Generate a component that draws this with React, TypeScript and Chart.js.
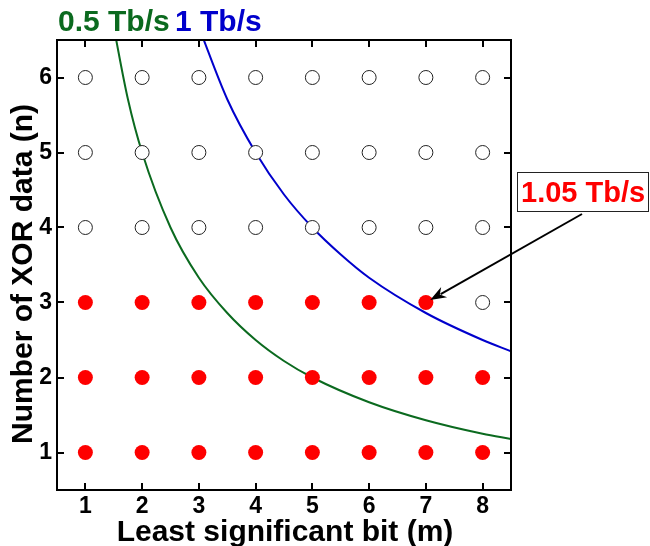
import React, { useEffect, useRef } from 'react';
import { Chart, registerables } from 'chart.js';

Chart.register(...registerables);

// ---- data ----
const mTicks = [1, 2, 3, 4, 5, 6, 7, 8];
const nTicks = [1, 2, 3, 4, 5, 6];
// largest m that is achievable (red) for each n = 1..6
const maxFeasibleM = [8, 8, 7, 0, 0, 0];

// 0.5 Tb/s boundary
const greenM = [1.5, 1.75, 2, 2.5, 3, 3.5, 4, 4.5, 5, 6, 7, 8, 8.5];
const greenN = [6.67, 5.71, 5.0, 4.0, 3.33, 2.86, 2.5, 2.22, 2.0, 1.67, 1.43, 1.25, 1.18];
// 1 Tb/s boundary
const blueM = [3, 3.5, 4, 4.5, 5, 5.5, 6, 7, 8, 8.5];
const blueN = [6.67, 5.71, 5.0, 4.44, 4.0, 3.64, 3.33, 2.86, 2.5, 2.35];

const greenLabel = '0.5 Tb/s';
const blueLabel = '1 Tb/s';
const calloutText = '1.05 Tb/s';
const calloutM = 7;
const calloutN = 3;

const xTitle = 'Least significant bit (m)';
const yTitle = 'Number of XOR data (n)';

const FONT = '"Liberation Sans", Arial, Helvetica, sans-serif';
const RED = '#fe0000';
const GREEN = '#0b6a1f';
const BLUE = '#0000cc';

const filledPts: { x: number; y: number }[] = [];
const openPts: { x: number; y: number }[] = [];
nTicks.forEach((n, i) => {
  mTicks.forEach((m) => {
    if (m <= maxFeasibleM[i]) filledPts.push({ x: m, y: n });
    else openPts.push({ x: m, y: n });
  });
});

const decorPlugin = {
  id: 'decor',
  afterDraw(chart: any) {
    const { ctx, chartArea } = chart;
    const { left, top, right, bottom } = chartArea;
    const xs = chart.scales.x;
    const ys = chart.scales.y;
    ctx.save();
    // frame
    ctx.strokeStyle = '#000';
    ctx.lineWidth = 2;
    ctx.strokeRect(left, top, right - left, bottom - top);
    // inward ticks
    const tl = 7;
    ctx.beginPath();
    mTicks.forEach((m) => {
      const x = Math.round(xs.getPixelForValue(m));
      ctx.moveTo(x, bottom);
      ctx.lineTo(x, bottom - tl);
      ctx.moveTo(x, top);
      ctx.lineTo(x, top + tl);
    });
    nTicks.forEach((n) => {
      const y = Math.round(ys.getPixelForValue(n));
      ctx.moveTo(left, y);
      ctx.lineTo(left + tl, y);
      ctx.moveTo(right, y);
      ctx.lineTo(right - tl, y);
    });
    ctx.stroke();

    // axis titles
    ctx.fillStyle = '#000';
    ctx.font = `bold 30px ${FONT}`;
    ctx.textAlign = 'center';
    ctx.textBaseline = 'alphabetic';
    ctx.fillText(xTitle, (left + right) / 2 + 1, 541);
    ctx.save();
    ctx.translate(32, 274);
    ctx.rotate(-Math.PI / 2);
    ctx.fillText(yTitle, 0, 0);
    ctx.restore();

    // curve labels
    ctx.font = `bold 30px ${FONT}`;
    ctx.textAlign = 'left';
    ctx.fillStyle = GREEN;
    ctx.fillText(greenLabel, 58, 31);
    ctx.fillStyle = BLUE;
    ctx.fillText(blueLabel, 175, 31);

    // callout box
    const bx = 517, by = 172, bw = 132, bh = 40;
    ctx.fillStyle = '#fff';
    ctx.fillRect(bx, by, bw, bh);
    ctx.strokeStyle = '#222';
    ctx.lineWidth = 1;
    ctx.strokeRect(bx + 0.5, by + 0.5, bw - 1, bh - 1);
    ctx.fillStyle = RED;
    ctx.font = `bold 29px ${FONT}`;
    ctx.fillText(calloutText, 521, 202);

    // arrow
    const px = xs.getPixelForValue(calloutM);
    const py = ys.getPixelForValue(calloutN);
    const sx = 582, sy = 214;
    const dx = sx - px, dy = sy - py;
    const len = Math.hypot(dx, dy);
    const ux = dx / len, uy = dy / len;
    const tx = px + ux * 5, ty = py + uy * 5;
    const ah = 16, aw = 6;
    ctx.strokeStyle = '#000';
    ctx.lineWidth = 2;
    ctx.beginPath();
    ctx.moveTo(sx, sy);
    ctx.lineTo(tx + ux * (ah - 4), ty + uy * (ah - 4));
    ctx.stroke();
    const nx = -uy, ny = ux;
    ctx.fillStyle = '#000';
    ctx.beginPath();
    ctx.moveTo(tx, ty);
    ctx.lineTo(tx + ux * ah + nx * aw, ty + uy * ah + ny * aw);
    ctx.lineTo(tx + ux * (ah - 5), ty + uy * (ah - 5));
    ctx.lineTo(tx + ux * ah - nx * aw, ty + uy * ah - ny * aw);
    ctx.closePath();
    ctx.fill();
    ctx.restore();
  },
};

export default function App() {
  const ref = useRef<HTMLCanvasElement | null>(null);
  useEffect(() => {
    if (!ref.current) return;
    const chart = new Chart(ref.current, {
      type: 'scatter',
      data: {
        datasets: [
          {
            label: greenLabel,
            data: greenM.map((m, i) => ({ x: m, y: greenN[i] })),
            showLine: true,
            borderColor: GREEN,
            borderWidth: 2,
            pointRadius: 0,
            cubicInterpolationMode: 'monotone',
            order: 2,
          },
          {
            label: blueLabel,
            data: blueM.map((m, i) => ({ x: m, y: blueN[i] })),
            showLine: true,
            borderColor: BLUE,
            borderWidth: 2,
            pointRadius: 0,
            cubicInterpolationMode: 'monotone',
            order: 2,
          },
          {
            label: 'achievable',
            data: filledPts,
            backgroundColor: RED,
            borderColor: RED,
            borderWidth: 0,
            pointRadius: 7.5,
            order: 1,
          },
          {
            label: 'not achievable',
            data: openPts,
            backgroundColor: '#fff',
            borderColor: '#222',
            borderWidth: 1,
            pointRadius: 7,
            order: 1,
          },
        ],
      } as any,
      options: {
        animation: false,
        responsive: false,
        maintainAspectRatio: false,
        layout: { padding: { left: 0, top: 40, right: 139, bottom: 0 } },
        plugins: {
          legend: { display: false },
          tooltip: { enabled: false },
        },
        scales: {
          x: {
            type: 'linear',
            min: 0.5,
            max: 8.5,
            grid: { display: false, drawTicks: false },
            border: { display: false },
            afterBuildTicks: (s: any) => {
              s.ticks = mTicks.map((v) => ({ value: v }));
            },
            afterFit: (s: any) => {
              s.height = 56;
            },
            ticks: {
              padding: 3,
              color: '#000',
              font: { family: FONT, size: 23, weight: 'bold' },
              maxRotation: 0,
            },
          },
          y: {
            type: 'linear',
            min: 0.5,
            max: 6.5,
            grid: { display: false, drawTicks: false },
            border: { display: false },
            afterBuildTicks: (s: any) => {
              s.ticks = nTicks.map((v) => ({ value: v }));
            },
            afterFit: (s: any) => {
              s.width = 57;
            },
            ticks: {
              padding: 5,
              color: '#000',
              font: { family: FONT, size: 23, weight: 'bold' },
            },
          },
        },
      } as any,
      plugins: [decorPlugin],
    });
    return () => chart.destroy();
  }, []);
  return (
    <div style={{ position: 'fixed', left: 0, top: 0, width: 650, height: 546, background: '#fff' }}>
      <canvas ref={ref} width={650} height={546} style={{ display: 'block' }} />
    </div>
  );
}
